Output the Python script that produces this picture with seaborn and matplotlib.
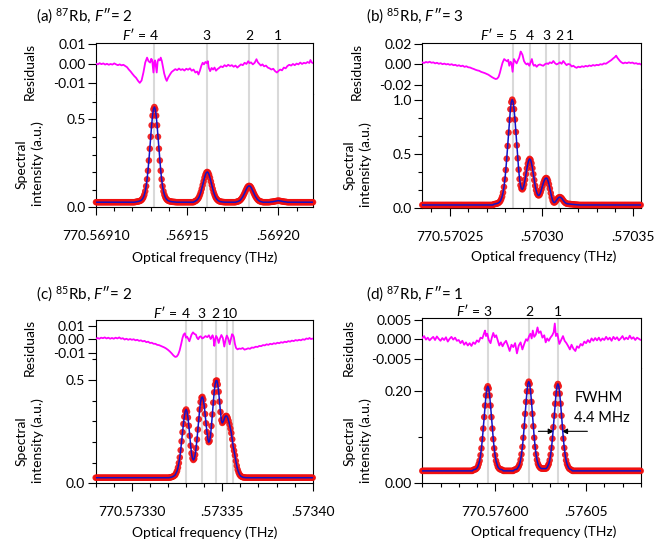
import numpy as np
import matplotlib
matplotlib.use("Agg")
import matplotlib.pyplot as plt
from matplotlib.ticker import MultipleLocator
import seaborn as sns

# ------------------------------------------------------------------
# Frequencies are in MHz relative to the first labelled tick of each panel.
# Spectra are sampled every 0.5 MHz; outside the listed regions the
# trace sits on the flat background level.
# ------------------------------------------------------------------

# (a) 87Rb, F''=2   (0 MHz = 770.56910 THz)
a_base = 0.029
a_peak4 = [0.030, 0.031, 0.032, 0.033, 0.034,
           0.036, 0.038, 0.042, 0.048, 0.057, 0.071, 0.091, 0.120, 0.159, 0.208,
           0.266, 0.333, 0.401, 0.466, 0.521, 0.557, 0.570, 0.557, 0.521, 0.466,
           0.401, 0.333, 0.266, 0.208, 0.159, 0.120, 0.091, 0.071, 0.057, 0.048,
           0.042, 0.038, 0.036]
a_tail4 = [0.034, 0.033, 0.032, 0.031, 0.031, 0.030, 0.030]
a_peak3 = [0.033, 0.035, 0.038, 0.043, 0.049, 0.058, 0.071, 0.086, 0.105, 0.126,
           0.147, 0.168, 0.185, 0.197, 0.201, 0.197, 0.185, 0.168, 0.147, 0.126,
           0.105, 0.086, 0.071, 0.058, 0.049, 0.043, 0.038, 0.035, 0.033]
a_tail3 = [0.032, 0.031, 0.030, 0.030]
a_peak2 = [0.031, 0.032, 0.034, 0.036, 0.040, 0.045, 0.052, 0.060, 0.070, 0.081,
           0.093, 0.104, 0.114, 0.120, 0.122, 0.120, 0.114, 0.104, 0.093, 0.081,
           0.070, 0.060, 0.052, 0.045, 0.040, 0.036, 0.034, 0.032, 0.031]
a_peak1 = [0.030, 0.031, 0.031, 0.032, 0.033, 0.034, 0.035, 0.036, 0.037, 0.038,
           0.037, 0.036, 0.035, 0.034, 0.033, 0.032, 0.031, 0.031, 0.030]
a_residuals = [
    (0, 0.0000), (1, -0.0004), (2, 0.0002), (3, -0.0003), (4, 0.0001),
    (5, -0.0005), (6, -0.0001), (7, -0.0006), (8, -0.0002), (9, -0.0005),
    (10, 0.0001), (11, -0.0004), (12, -0.0008), (13, -0.0004), (14, -0.0009),
    (15, -0.0006), (16, -0.0012), (17, -0.0018), (18, -0.0030), (19, -0.0040),
    (20, -0.0052), (21, -0.0063), (22, -0.0072), (23, -0.0086), (24, -0.0097),
    (25, -0.0085), (26, -0.0045), (27, 0.0005), (28, 0.0030), (28.8, 0.0012),
    (29.7, 0.0005), (30.3, 0.0024), (30.8, 0.0018), (31.5, -0.0045), (32, 0.0008),
    (32.4, 0.0016), (33.3, -0.0045), (33.8, 0.0010), (34.3, 0.0022), (35, 0.0016),
    (35.5, 0.0030), (36.1, 0.0013), (36.8, -0.0020), (37.4, -0.0050),
    (38.2, -0.0075), (38.8, -0.0087), (39.6, -0.0070), (40.7, -0.0053),
    (41.5, -0.0042), (42.5, -0.0035), (43.5, -0.0028), (44.5, -0.0033),
    (45.5, -0.0025), (46.5, -0.0032), (47.5, -0.0028), (48.5, -0.0035),
    (49.5, -0.0026), (50.5, -0.0031), (51.5, -0.0024), (52.5, -0.0036),
    (53.5, -0.0030), (54.5, -0.0045), (55.5, -0.0040), (56.2, -0.0055),
    (57, -0.0035), (57.8, -0.0010), (58.5, 0.0004), (59.2, -0.0004), (60, 0.0008),
    (60.8, 0.0002), (61.3, 0.0012), (61.8, -0.0020), (62.6, -0.0038),
    (63.4, -0.0022), (64.2, -0.0030), (65, -0.0020), (65.8, -0.0036),
    (66.6, -0.0028), (67.5, -0.0022), (68.5, -0.0014), (69.5, -0.0018),
    (70.5, -0.0008), (71.5, -0.0014), (72.5, -0.0006), (73.5, -0.0012),
    (74.5, -0.0008), (75.5, -0.0016), (76.5, -0.0010), (77.5, -0.0020),
    (78.5, -0.0012), (79.5, -0.0004), (80.5, -0.0008), (81.5, 0.0004),
    (82.5, -0.0002), (83.5, 0.0012), (84.2, 0.0002), (85, 0.0006), (86, -0.0004),
    (87, 0.0004), (88, 0.0022), (88.8, 0.0006), (89.6, -0.0002), (90.4, -0.0010),
    (91.3, -0.0004), (92.2, -0.0014), (93.2, -0.0010), (94.2, -0.0020),
    (95.2, -0.0024), (96.2, -0.0030), (97.2, -0.0026), (98.2, -0.0038),
    (99.2, -0.0045), (100.2, -0.0036), (101, -0.0030), (102, -0.0034),
    (103, -0.0020), (104, -0.0024), (105, -0.0012), (106, -0.0006),
    (107, -0.0010), (108, -0.0002), (109, -0.0008), (110, 0.0000),
    (111, -0.0004), (112, 0.0005), (113, -0.0002), (114, 0.0004), (115, 0.0001),
    (116, 0.0008), (117, 0.0003), (117.6, 0.0018), (118.3, 0.0006), (119, 0.0002)]
a_lines = [32.0, 60.8, 83.9, 99.8]
a_line_labels = ["4", "3", "2", "1"]
a_xticks = [0, 50, 100]
a_xticklabels = ["770.56910", ".56915", ".56920"]

# (b) 85Rb, F''=3   (0 MHz = 770.57025 THz)
b_base = 0.028
b_cluster = [0.035, 0.037, 0.038, 0.040, 0.043, 0.047, 0.054, 0.064, 0.082, 0.106,
             0.143, 0.195, 0.264, 0.352, 0.456, 0.574, 0.698, 0.816, 0.914, 0.980,
             1.003, 0.981, 0.915, 0.819, 0.703, 0.580, 0.460, 0.355, 0.268, 0.210,
             0.180, 0.172, 0.186, 0.218, 0.262, 0.314, 0.366, 0.410, 0.441, 0.455,
             0.445, 0.414, 0.368, 0.313, 0.258, 0.206, 0.165, 0.136, 0.120, 0.116,
             0.125, 0.146, 0.174, 0.205, 0.234, 0.257, 0.272, 0.278, 0.272, 0.252,
             0.220, 0.180, 0.138, 0.100, 0.070, 0.053, 0.050, 0.057, 0.069, 0.082,
             0.092, 0.099, 0.101, 0.097, 0.089, 0.077, 0.065, 0.054, 0.047, 0.042,
             0.039, 0.038, 0.037, 0.037, 0.036, 0.035, 0.034, 0.033, 0.032, 0.031,
             0.030, 0.030, 0.029]
b_residuals = [
    (-15, 0.0020), (-14, 0.0014), (-13, 0.0024), (-12, 0.0018), (-11, 0.0026),
    (-10, 0.0016), (-9, 0.0020), (-8, 0.0010), (-7, 0.0016), (-6, 0.0006),
    (-5, 0.0012), (-4, 0.0002), (-3, 0.0008), (-2, 0.0000), (-1, 0.0004),
    (0, -0.0004), (1, 0.0002), (2, -0.0008), (3, -0.0004), (4, -0.0014),
    (5, -0.0008), (6, -0.0018), (7, -0.0012), (8, -0.0024), (9, -0.0018),
    (10, -0.0028), (11, -0.0030), (12, -0.0038), (13, -0.0044), (14, -0.0052),
    (15, -0.0058), (16, -0.0062), (17, -0.0072), (18, -0.0078), (19, -0.0084),
    (20, -0.0092), (21, -0.0100), (22, -0.0112), (23, -0.0124), (24, -0.0134),
    (25, -0.0142), (25.8, -0.0138), (26.6, -0.0120), (27.3, -0.0080),
    (28, -0.0030), (28.7, 0.0015), (29.6, 0.0052), (30.4, 0.0040), (31.3, 0.0030),
    (31.8, 0.0045), (32.4, -0.0013), (33.1, 0.0026), (33.6, 0.0010),
    (34.2, -0.0072), (34.9, 0.0052), (35.6, 0.0030), (36.4, 0.0010),
    (37.1, 0.0040), (37.8, 0.0066), (38.6, 0.0125), (39.1, 0.0110),
    (39.6, 0.0092), (40.4, 0.0033), (41.1, 0.0012), (41.8, 0.0000), (42.5, 0.0010),
    (43.3, -0.0013), (44, 0.0020), (44.7, 0.0052), (45.3, 0.0004), (45.8, -0.0013),
    (46.5, -0.0004), (47.3, -0.0023), (48.2, -0.0006), (49.1, 0.0000),
    (50, -0.0008), (50.9, -0.0013), (52, 0.0004), (53, 0.0010), (53.6, 0.0004),
    (54.5, 0.0020), (55.5, 0.0012), (56.4, 0.0033), (57.3, 0.0012), (58.2, 0.0000),
    (59.1, 0.0008), (60, 0.0020), (60.9, 0.0006), (61.8, 0.0033), (62.7, 0.0012),
    (63.6, -0.0007), (64.5, 0.0004), (65.5, 0.0000), (66.4, -0.0020),
    (67.3, -0.0013), (68.2, -0.0026), (69.1, -0.0033), (70, -0.0022),
    (71, -0.0028), (72, -0.0018), (73, -0.0024), (74, -0.0014), (75, -0.0020),
    (76, -0.0010), (77, -0.0016), (78, -0.0006), (79, -0.0012), (80, -0.0004),
    (81, -0.0008), (82, 0.0002), (83, -0.0002), (84, 0.0010), (85, 0.0006),
    (86, 0.0018), (87, 0.0030), (88, 0.0042), (89, 0.0058), (90, 0.0072),
    (90.6, 0.0085), (91.3, 0.0064), (92, 0.0048), (92.7, 0.0033), (93.5, 0.0020),
    (94.5, 0.0010), (95.5, 0.0018), (96.5, 0.0012), (97.5, 0.0020), (98.5, 0.0014),
    (99.5, 0.0018), (100.5, 0.0008), (101.5, 0.0012), (102.5, 0.0004),
    (103.3, 0.0008), (104, 0.0000)]
b_lines = [34.2, 43.6, 52.6, 59.6, 65.5]
b_line_labels = ["5", "4", "3", "2", "1"]
b_xticks = [0, 50, 100]
b_xticklabels = ["770.57025", ".57030", ".57035"]

# (c) 85Rb, F''=2   (0 MHz = 770.57330 THz)
c_base = 0.027
c_cluster = [0.028, 0.029, 0.030, 0.032, 0.034, 0.037, 0.041, 0.050, 0.060, 0.076,
             0.098, 0.125, 0.160, 0.203, 0.247, 0.287, 0.322, 0.349, 0.357, 0.346,
             0.318, 0.278, 0.230, 0.182, 0.145, 0.121, 0.113, 0.119, 0.138, 0.170,
             0.212, 0.260, 0.310, 0.357, 0.393, 0.414, 0.418, 0.405, 0.375, 0.335,
             0.290, 0.248, 0.215, 0.199, 0.205, 0.232, 0.277, 0.333, 0.390, 0.440,
             0.477, 0.496, 0.497, 0.478, 0.443, 0.395, 0.345, 0.305, 0.292, 0.298,
             0.310, 0.321, 0.326, 0.325, 0.316, 0.302, 0.285, 0.265, 0.243, 0.213,
             0.180, 0.158, 0.135, 0.108, 0.085, 0.066, 0.053, 0.043, 0.037, 0.033,
             0.031, 0.029, 0.028, 0.028, 0.027]
c_residuals = [
    (-20, 0.0003), (-19, 0.0010), (-18, 0.0004), (-17, 0.0012), (-16, 0.0008),
    (-15, 0.0014), (-14, 0.0006), (-13, 0.0012), (-12, 0.0004), (-11, 0.0010),
    (-10, 0.0004), (-9, 0.0012), (-8, 0.0006), (-7, 0.0014), (-6, 0.0004),
    (-5, 0.0008), (-4, -0.0002), (-3, 0.0004), (-2, -0.0004), (-1, 0.0002),
    (0, -0.0004), (1, 0.0000), (2, -0.0008), (3, -0.0004), (4, -0.0012),
    (5, -0.0008), (6, -0.0016), (7, -0.0012), (8, -0.0022), (9, -0.0018),
    (10, -0.0028), (11, -0.0026), (12, -0.0034), (13, -0.0034), (14, -0.0042),
    (15, -0.0044), (16, -0.0050), (17, -0.0056), (18, -0.0062), (19, -0.0070),
    (20, -0.0080), (21, -0.0092), (22, -0.0106), (23, -0.0122), (24, -0.0133),
    (24.8, -0.0130), (25.6, -0.0115), (26.4, -0.0085), (27.2, -0.0040),
    (28, 0.0010), (28.6, 0.0035), (29.3, 0.0045), (29.9, 0.0012), (30.5, 0.0020),
    (31, 0.0008), (31.8, -0.0015), (32.4, 0.0010), (33, 0.0035), (33.8, 0.0052),
    (34.6, 0.0040), (35.4, 0.0035), (36, 0.0012), (36.7, 0.0000), (37.4, 0.0018),
    (38.1, 0.0022), (38.9, 0.0006), (39.7, 0.0012), (40.7, 0.0024), (41.7, 0.0016),
    (42.6, 0.0030), (43.6, 0.0002), (44.1, 0.0015), (44.6, 0.0030), (45.1, 0.0010),
    (45.6, -0.0050), (46.1, -0.0005), (46.6, 0.0025), (47.3, 0.0008),
    (48, -0.0028), (48.7, 0.0005), (49.5, 0.0032), (50.3, 0.0010), (51.1, -0.0055),
    (51.8, -0.0005), (52.5, 0.0028), (53.3, 0.0005), (54.1, -0.0038),
    (54.8, 0.0005), (55.4, 0.0038), (56, 0.0030), (56.4, 0.0015), (57, -0.0035),
    (57.6, -0.0065), (58.4, -0.0076), (59.3, -0.0070), (60.3, -0.0072),
    (61.3, -0.0066), (62.3, -0.0078), (63.3, -0.0074), (64.3, -0.0068),
    (65.3, -0.0072), (66.3, -0.0062), (67.3, -0.0064), (68.5, -0.0056),
    (69.5, -0.0058), (70.5, -0.0050), (71.5, -0.0052), (72.5, -0.0044),
    (73.5, -0.0046), (74.5, -0.0038), (75.5, -0.0042), (76.5, -0.0034),
    (77.5, -0.0038), (78.5, -0.0030), (79.5, -0.0034), (80.5, -0.0026),
    (81.5, -0.0030), (82.5, -0.0022), (83.5, -0.0026), (84.5, -0.0018),
    (85.5, -0.0022), (86.5, -0.0014), (87.5, -0.0018), (88.5, -0.0010),
    (89.5, -0.0014), (90.5, -0.0006), (91.5, -0.0010), (92.5, -0.0004),
    (93.5, -0.0008), (94.5, 0.0000), (95.5, -0.0004), (96.5, 0.0006),
    (97.5, 0.0002), (98.2, 0.0010), (99, 0.0002), (100, 0.0005)]
c_lines = [29.7, 38.7, 46.4, 52.6, 55.9]
c_label_pos = [29.7, 38.7, 46.4, 54.25]
c_line_labels = ["4", "3", "2", "10"]
c_xticks = [0, 50, 100]
c_xticklabels = ["770.57330", ".57335", ".57340"]

# (d) 87Rb, F''=1   (0 MHz = 770.57600 THz)
d_base = 0.027
d_peak3 = [0.029, 0.030, 0.030, 0.031, 0.033, 0.036, 0.042, 0.049, 0.061, 0.076,
           0.096, 0.119, 0.144, 0.169, 0.191, 0.206, 0.211, 0.206, 0.191, 0.169,
           0.144, 0.119, 0.096, 0.076, 0.061, 0.049, 0.042, 0.036, 0.033, 0.031,
           0.030, 0.030, 0.029]
d_peak2 = [0.029, 0.030, 0.030, 0.031, 0.034, 0.037, 0.042, 0.051, 0.063, 0.079,
           0.099, 0.124, 0.151, 0.177, 0.200, 0.216, 0.221, 0.216, 0.200, 0.177,
           0.151, 0.124, 0.099, 0.079, 0.063, 0.051, 0.043, 0.038, 0.035, 0.033,
           0.032, 0.032, 0.032]
d_peak1 = [0.032, 0.032, 0.032, 0.034, 0.038, 0.042, 0.050, 0.062, 0.077, 0.097,
           0.122, 0.147, 0.173, 0.195, 0.211, 0.216, 0.211, 0.195, 0.173, 0.147,
           0.122, 0.097, 0.077, 0.062, 0.050, 0.042, 0.037, 0.033, 0.031, 0.030,
           0.029]
d_residuals = [
    (-40, 0.0003), (-39, 0.0008), (-38, -0.0001), (-37, 0.0004), (-36, -0.0003),
    (-35, 0.0002), (-34, 0.0006), (-33, -0.0002), (-32, 0.0007), (-31, 0.0001),
    (-30, -0.0004), (-29, 0.0003), (-28, -0.0002), (-27, 0.0005), (-26, -0.0006),
    (-25, 0.0001), (-24, 0.0006), (-23, -0.0001), (-22, 0.0004), (-21, -0.0004),
    (-20, -0.0002), (-19, -0.0010), (-18, -0.0004), (-17, -0.0014), (-16, -0.0008),
    (-15, -0.0016), (-14, -0.0010), (-13, -0.0017), (-12, -0.0008), (-11, -0.0012),
    (-10, -0.0003), (-9, -0.0007), (-8, 0.0004), (-7, 0.0002), (-6, 0.0016),
    (-5.5, 0.0022), (-5, 0.0008), (-4.3, 0.0014), (-3.5, -0.0002), (-2.5, -0.0010),
    (-1.8, 0.0004), (-1, 0.0016), (-0.2, 0.0005), (0.6, 0.0010), (1.5, -0.0004),
    (2.3, -0.0016), (3.2, -0.0008), (4.1, -0.0018), (5, -0.0010), (6, -0.0004),
    (7, -0.0016), (8, -0.0030), (9, -0.0014), (10, -0.0020), (11, -0.0010),
    (12, -0.0036), (13, -0.0016), (14, -0.0008), (15, -0.0026), (16, -0.0012),
    (17, 0.0000), (17.8, -0.0004), (18.7, 0.0008), (19.4, 0.0014), (20.1, 0.0002),
    (20.7, 0.0022), (21.5, 0.0006), (22.4, 0.0012), (23.3, 0.0030), (24, 0.0016),
    (25, 0.0020), (26, 0.0004), (27, 0.0010), (27.8, -0.0008), (28.6, 0.0002),
    (29.5, -0.0004), (30.4, 0.0004), (31.4, 0.0010), (32.2, 0.0018), (32.8, 0.0040),
    (33.4, 0.0008), (34.2, 0.0014), (35.3, -0.0012), (36.3, -0.0002),
    (37.3, 0.0008), (38.2, -0.0004), (39.2, -0.0010), (40.2, -0.0018),
    (41.1, -0.0026), (42, -0.0014), (43, -0.0024), (44.1, -0.0030), (45, -0.0018),
    (46, -0.0022), (47, -0.0012), (48, -0.0016), (49, -0.0006), (50, -0.0010),
    (51, -0.0002), (52, -0.0008), (53, 0.0002), (54, -0.0004), (55, 0.0003),
    (56, -0.0003), (57, 0.0004), (58, -0.0004), (59, 0.0002), (60, -0.0002),
    (61, 0.0006), (62, -0.0001), (63, 0.0004), (64, -0.0004), (65, 0.0006),
    (66, 0.0000), (67, 0.0005), (68, -0.0003), (69, 0.0002), (70, 0.0008),
    (71, -0.0001), (72, 0.0004), (73, 0.0000), (74, 0.0009), (75, 0.0001),
    (76, 0.0005), (77, -0.0002), (78, 0.0004), (79, 0.0001), (80, -0.0002)]
d_lines = [-4.0, 18.7, 34.3]
d_line_labels = ["3", "2", "1"]
d_xticks = [0, 50]
d_xticklabels = ["770.57600", ".57605"]
d_fwhm_center = 34.5
d_fwhm = 4.4
d_fwhm_level = 0.113

# ------------------------------------------------------------------
sns.set_style("ticks")
plt.rcParams["font.family"] = ["Lato", "DejaVu Sans"]
plt.rcParams["mathtext.fontset"] = "custom"
plt.rcParams["mathtext.rm"] = "Lato"
plt.rcParams["mathtext.it"] = "Lato:italic"
plt.rcParams["mathtext.bf"] = "Lato:bold"
plt.rcParams["axes.linewidth"] = 0.8
plt.rcParams["text.color"] = "black"

W, H = 659, 545
STEP = 0.5


def box(l, t, r, b):
    return [l / W, 1 - b / H, (r - l) / W, (b - t) / H]


def build_spectrum(xmin, xmax, base, regions):
    x = np.arange(xmin, xmax + STEP / 2, STEP)
    y = np.full(len(x), base, dtype=float)
    for start, vals in regions:
        i0 = int(round((start - xmin) / STEP))
        n = min(len(vals), len(x) - i0)
        y[i0:i0 + n] = vals[:n]
    return x, y


panels = [
    dict(tag="a", title=r"(a) $^{87}$Rb, $\mathit{F}$″= 2",
         res_box=(96, 43.3, 313, 94), spec_box=(96, 94, 313, 207.3),
         xlim=(0, 119), res_ylim=(-0.0153, 0.0102), spec_ylim=(0, 0.644),
         res_ticks=[-0.01, 0, 0.01], res_labels=["-0.01", "0.00", "0.01"],
         spec_ticks=[0, 0.5], spec_labels=["0.0", "0.5"], spec_minor=0.1,
         base=a_base,
         regions=[(21.5, a_peak4), (40.5, a_tail4), (54.0, a_peak3),
                  (68.5, a_tail3), (77.0, a_peak2), (95.5, a_peak1)],
         res=a_residuals, lines=a_lines, label_pos=a_lines,
         labels=a_line_labels, xticks=a_xticks, xticklabels=a_xticklabels,
         title_xy=(36, 21.7), res_lab=(30, 71), spec_lab=(30, 164),
         xlab=(204.5, 257.7), lab_dy=2.6),
    dict(tag="b", title=r"(b) $^{85}$Rb, $\mathit{F}$″= 3",
         res_box=(422.3, 43.3, 640.7, 88.5), spec_box=(422.3, 88.5, 640.7, 208),
         xlim=(-15, 104), res_ylim=(-0.0234, 0.0205), spec_ylim=(0, 1.106),
         res_ticks=[-0.02, 0, 0.02], res_labels=["-0.02", "0.00", "0.02"],
         spec_ticks=[0, 0.5, 1.0], spec_labels=["0.0", "0.5", "1.0"],
         spec_minor=1 / 6,
         base=b_base, regions=[(24.0, b_cluster)],
         res=b_residuals, lines=b_lines, label_pos=b_lines,
         labels=b_line_labels, xticks=b_xticks, xticklabels=b_xticklabels,
         title_xy=(366, 21.7), res_lab=(357, 71.5), spec_lab=(358, 165),
         xlab=(544, 256.7), lab_dy=2.6),
    dict(tag="c", title=r"(c) $^{85}$Rb, $\mathit{F}$″= 2",
         res_box=(95.7, 320, 312.7, 358), spec_box=(95.7, 358, 312.7, 483.3),
         xlim=(-20, 100), res_ylim=(-0.0141, 0.0145), spec_ylim=(0, 0.606),
         res_ticks=[-0.01, 0, 0.01], res_labels=["-0.01", "0.00", "0.01"],
         spec_ticks=[0, 0.5], spec_labels=["0.0", "0.5"], spec_minor=0.1,
         base=c_base, regions=[(21.0, c_cluster)],
         res=c_residuals, lines=c_lines, label_pos=c_label_pos,
         labels=c_line_labels, xticks=c_xticks, xticklabels=c_xticklabels,
         title_xy=(36, 299.3), res_lab=(30, 347), spec_lab=(30, 441),
         xlab=(204.5, 533), lab_dy=1.6),
    dict(tag="d", title=r"(d) $^{87}$Rb, $\mathit{F}$″= 1",
         res_box=(422.3, 318, 640.7, 368.3), spec_box=(422.3, 368.3, 640.7, 483.3),
         xlim=(-40, 80), res_ylim=(-0.0074, 0.0054), spec_ylim=(0, 0.25),
         res_ticks=[-0.005, 0, 0.005], res_labels=["-0.005", "0.000", "0.005"],
         spec_ticks=[0, 0.2], spec_labels=["0.00", "0.20"], spec_minor=0.1,
         base=d_base, regions=[(-12.0, d_peak3), (10.5, d_peak2), (27.0, d_peak1)],
         res=d_residuals, lines=d_lines, label_pos=d_lines,
         labels=d_line_labels, xticks=d_xticks, xticklabels=d_xticklabels,
         title_xy=(366, 299.3), res_lab=(348.7, 347), spec_lab=(358, 441),
         xlab=(544, 531.7), lab_dy=1.3),
]

fig = plt.figure(figsize=(W / 100, H / 100), dpi=100)

RED = "#f00f0f"
BLUE = "#1212c8"
MAGENTA = "#ff00ff"
GRID = "#d9d9d9"
FS = 10

for p in panels:
    ax_r = fig.add_axes(box(*p["res_box"]))
    ax_s = fig.add_axes(box(*p["spec_box"]))

    # transition markers spanning both panes
    for ax in (ax_r, ax_s):
        for xv in p["lines"]:
            ax.axvline(xv, color=GRID, lw=1.5, zorder=0)

    # residual trace
    rx, ry = zip(*p["res"])
    sns.lineplot(x=list(rx), y=list(ry), ax=ax_r, color=MAGENTA, lw=1.3,
                 sort=False, estimator=None, zorder=3)

    # measured spectrum (dots) and fitted profile (line)
    sx, sy = build_spectrum(p["xlim"][0], p["xlim"][1], p["base"], p["regions"])
    sns.scatterplot(x=sx, y=sy, ax=ax_s, color=RED, s=22, edgecolor="none",
                    alpha=0.9, zorder=3, clip_on=False)
    sns.lineplot(x=sx, y=sy, ax=ax_s, color=BLUE, lw=1.1, sort=False,
                 estimator=None, zorder=4)

    for ax in (ax_r, ax_s):
        ax.set_xlim(*p["xlim"])
        ax.set_xlabel("")
        ax.set_ylabel("")
        for sp in ax.spines.values():
            sp.set_color("black")
            sp.set_linewidth(0.8)
        ax.tick_params(axis="both", which="major", direction="out", length=5.5,
                       width=0.8, labelsize=FS, pad=2, colors="black")
        ax.tick_params(axis="both", which="minor", direction="out", length=3,
                       width=0.8, colors="black")

    ax_r.set_ylim(*p["res_ylim"])
    ax_r.set_yticks(p["res_ticks"], p["res_labels"])
    ax_r.spines["bottom"].set_visible(False)
    ax_r.spines["top"].set_visible(True)
    ax_r.spines["right"].set_visible(True)
    ax_r.tick_params(axis="x", which="both", bottom=False, labelbottom=False,
                     top=False)
    ax_r.tick_params(axis="y", which="both", right=False)

    ax_s.set_ylim(*p["spec_ylim"])
    ax_s.set_yticks(p["spec_ticks"], p["spec_labels"])
    ax_s.yaxis.set_minor_locator(MultipleLocator(p["spec_minor"]))
    ax_s.set_xticks(p["xticks"], p["xticklabels"])
    ax_s.xaxis.set_minor_locator(MultipleLocator(10))
    ax_s.spines["top"].set_visible(False)
    ax_s.spines["right"].set_visible(True)
    ax_s.tick_params(axis="x", which="major", pad=11)
    ax_s.tick_params(axis="both", which="both", top=False, right=False)

    # F' labels above the transition markers
    for xv, lab in zip(p["label_pos"], p["labels"]):
        ax_r.annotate(lab, xy=(xv, 1), xycoords=("data", "axes fraction"),
                      xytext=(0, p["lab_dy"]), textcoords="offset points",
                      ha="center", va="baseline", fontsize=FS)
    ax_r.annotate(r"$\mathit{F}$′ =", xy=(p["label_pos"][0], 1),
                  xycoords=("data", "axes fraction"),
                  xytext=(-5.6, p["lab_dy"]), textcoords="offset points",
                  ha="right", va="baseline", fontsize=FS)

    # panel title and axis labels
    fig.text(p["title_xy"][0] / W, 1 - p["title_xy"][1] / H, p["title"],
             fontsize=11, ha="left", va="baseline")
    fig.text(p["res_lab"][0] / W, 1 - p["res_lab"][1] / H, "Residuals",
             rotation=90, ha="center", va="center", fontsize=FS)
    fig.text(p["spec_lab"][0] / W, 1 - p["spec_lab"][1] / H,
             "Spectral\nintensity (a.u.)", rotation=90, ha="center",
             va="center", fontsize=FS, linespacing=1.35, multialignment="center")
    fig.text(p["xlab"][0] / W, 1 - p["xlab"][1] / H, "Optical frequency (THz)",
             ha="center", va="center", fontsize=FS)

    if p["tag"] == "d":
        left_tip = d_fwhm_center - d_fwhm / 2
        right_tip = d_fwhm_center + d_fwhm / 2
        arrow = dict(arrowstyle="-|>", color="black", lw=0.8,
                     shrinkA=0, shrinkB=0, mutation_scale=8)
        ax_s.annotate("", xy=(left_tip, d_fwhm_level),
                      xytext=(left_tip - 8.5, d_fwhm_level), arrowprops=arrow)
        ax_s.annotate("", xy=(right_tip, d_fwhm_level),
                      xytext=(right_tip + 14.0, d_fwhm_level), arrowprops=arrow)
        ax_s.text(43.6, 0.1865, "FWHM", ha="left", va="center", fontsize=10.5)
        ax_s.text(43.6, 0.141, "4.4 MHz", ha="left", va="center", fontsize=10.5)

fig.savefig("out.png", dpi=100)
